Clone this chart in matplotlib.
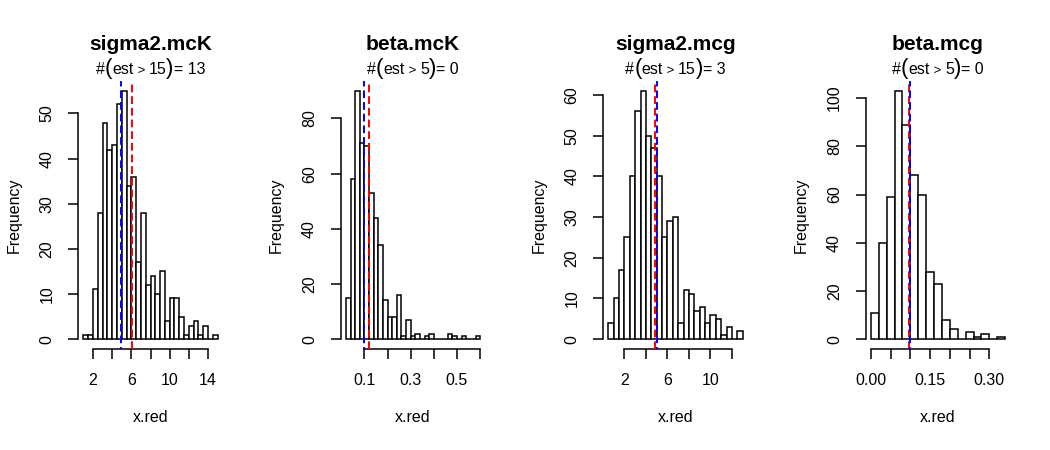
import numpy as np
import matplotlib
matplotlib.use("Agg")
import matplotlib.pyplot as plt
from matplotlib.offsetbox import TextArea, HPacker, AnnotationBbox

plt.rcParams['font.family'] = ['Liberation Sans', 'DejaVu Sans']

# ---- data ----
titles = ["sigma2.mcK", "beta.mcK", "sigma2.mcg", "beta.mcg"]
thresholds = [15, 5, 15, 5]
n_above = [13, 0, 3, 0]

breaks_sigma2_mcK = [1.0, 15.0]
counts_sigma2_mcK = [1, 1, 11, 28, 48, 42, 43, 52, 55, 34, 36, 17, 28, 12, 14, 10,
                     15, 4, 9, 9, 5, 1, 3, 4, 1, 3, 0, 1]
breaks_beta_mcK = [0.02, 0.60]
counts_beta_mcK = [15, 58, 90, 71, 70, 53, 44, 34, 14, 8, 8, 16, 1, 7, 1, 2, 0, 1, 2,
                   0, 0, 0, 2, 1, 0, 1, 0, 0, 1]
breaks_sigma2_mcg = [0.5, 13.0]
counts_sigma2_mcg = [4, 10, 17, 25, 40, 56, 61, 50, 47, 40, 25, 29, 30, 4, 12, 11, 7,
                     8, 4, 6, 5, 1, 3, 0, 2]
breaks_beta_mcg = [0.0, 0.34]
counts_beta_mcg = [11, 40, 59, 103, 89, 68, 60, 28, 23, 8, 4, 0, 3, 1, 2, 0, 1]

blue_vals = [4.91, 0.099, 5.00, 0.100]
red_vals = [6.03, 0.118, 4.88, 0.096]

xticks_list = [[2, 4, 6, 8, 10, 12, 14],
               [0.1, 0.2, 0.3, 0.4, 0.5, 0.6],
               [2, 4, 6, 8, 10, 12],
               [0.00, 0.05, 0.10, 0.15, 0.20, 0.25, 0.30]]
xticklabels_list = [["2", "", "6", "", "10", "", "14"],
                    ["0.1", "", "0.3", "", "0.5", ""],
                    ["2", "", "6", "", "10", ""],
                    ["0.00", "", "", "0.15", "", "", "0.30"]]
yticks_list = [[0, 10, 20, 30, 40, 50],
               [0, 20, 40, 60, 80],
               [0, 10, 20, 30, 40, 50, 60],
               [0, 20, 40, 60, 80, 100]]

breaks_all = [breaks_sigma2_mcK, breaks_beta_mcK, breaks_sigma2_mcg, breaks_beta_mcg]
counts_all = [counts_sigma2_mcK, counts_beta_mcK, counts_sigma2_mcg, counts_beta_mcg]

# ---- layout ----
W, H = 1050, 450
fig = plt.figure(figsize=(W / 100, H / 100), dpi=100)
col_w = W / 4
ax_left_off = 78
ax_w = 145
ax_bottom = 450 - 349
ax_h = 268

tick_fs = 11.5
for i in range(4):
    ax = fig.add_axes([(col_w * i + ax_left_off) / W, ax_bottom / H, ax_w / W, ax_h / H])
    counts = np.array(counts_all[i])
    lo, hi = breaks_all[i]
    edges = np.linspace(lo, hi, len(counts) + 1)
    ax.bar(edges[:-1], counts, width=np.diff(edges), align='edge',
           facecolor='white', edgecolor='black', linewidth=1.1)
    rng = hi - lo
    ax.set_xlim(lo - 0.04 * rng, hi + 0.04 * rng)
    cmax = counts.max()
    ax.set_ylim(-0.04 * cmax, 1.04 * cmax)

    ax.axvline(red_vals[i], color='red', linestyle=(0, (4, 2)), linewidth=1.4, zorder=3)
    ax.axvline(blue_vals[i], color='blue', linestyle=(3, (4, 2)), linewidth=1.4, zorder=3)

    for s in ['top', 'right']:
        ax.spines[s].set_visible(False)
    ax.spines['left'].set_bounds(yticks_list[i][0], yticks_list[i][-1])
    ax.spines['bottom'].set_bounds(xticks_list[i][0], xticks_list[i][-1])
    for s in ['left', 'bottom']:
        ax.spines[s].set_linewidth(1.1)

    ax.set_xticks(xticks_list[i])
    ax.set_xticklabels(xticklabels_list[i], fontsize=tick_fs)
    ax.set_yticks(yticks_list[i])
    ax.set_yticklabels([str(v) for v in yticks_list[i]], fontsize=tick_fs,
                       rotation=90, va='center')
    ax.tick_params(axis='both', length=7, width=1.1, direction='out')
    ax.tick_params(axis='x', pad=10)
    ax.tick_params(axis='y', pad=10)

    ax.text(0.5, -0.257, "x.red", transform=ax.transAxes, ha='center', va='center',
            fontsize=tick_fs)
    ax.text(-0.44, 0.5, "Frequency", transform=ax.transAxes, ha='center', va='center',
            rotation=90, fontsize=tick_fs)
    ax.text(0.5, 1.135, titles[i], transform=ax.transAxes, ha='center', va='center',
            fontsize=15, fontweight='bold')

    parts = [("#", tick_fs), ("(", 16), ("est", tick_fs), (" > ", 9.5),
             ("%d" % thresholds[i], tick_fs), (")", 16), ("= %d" % n_above[i], tick_fs)]
    boxes = [TextArea(t, textprops=dict(fontsize=fs, fontweight='light')) for t, fs in parts]
    pack = HPacker(children=boxes, align='baseline', pad=0, sep=0)
    ab = AnnotationBbox(pack, (0.5, 1.048), xycoords=ax.transAxes, frameon=False,
                        box_alignment=(0.5, 0.5), annotation_clip=False, pad=0)
    ax.add_artist(ab)

fig.savefig("out.png", dpi=100)
